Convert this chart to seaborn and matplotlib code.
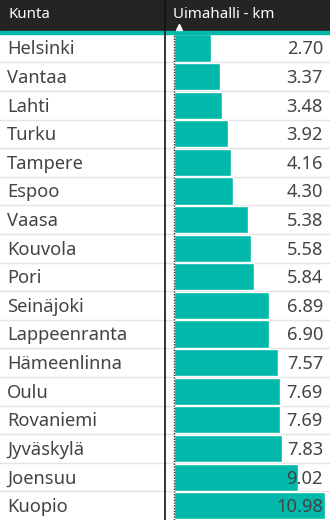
import matplotlib
matplotlib.use("Agg")
import matplotlib.pyplot as plt
from matplotlib.lines import Line2D
from matplotlib.patches import Rectangle
import seaborn as sns
import pandas as pd

kunta = ["Helsinki", "Vantaa", "Lahti", "Turku", "Tampere", "Espoo", "Vaasa",
         "Kouvola", "Pori", "Seinäjoki", "Lappeenranta", "Hämeenlinna", "Oulu",
         "Rovaniemi", "Jyväskylä", "Joensuu", "Kuopio"]
uimahalli_km = [2.70, 3.37, 3.48, 3.92, 4.16, 4.30, 5.38, 5.58, 5.84, 6.89,
                6.90, 7.57, 7.69, 7.69, 7.83, 9.02, 10.98]

header_cols = ["Kunta", "Uimahalli - km"]

df = pd.DataFrame({"Kunta": kunta, "km": uimahalli_km})

sns.set_style("white")
plt.rcParams["font.family"] = ["Noto Sans", "DejaVu Sans"]

W, H = 330, 520
HEADER = 31
TOP = 33.7
X0 = 174          # pixel where the bar axis starts
PX = 13.75        # pixels per km
TEAL = "#01B8AA"

fig = plt.figure(figsize=(W / 100, H / 100), dpi=100)
ax = fig.add_axes([0, 0, 1, (H - TOP) / H])

# table grid lines between rows
for i in range(len(kunta) - 1):
    ax.axhline(i + 0.5, color="#e3e3e3", lw=1, zorder=0)

sns.barplot(data=df, x="km", y="Kunta", orient="h", color=TEAL,
            saturation=1, width=0.95, ax=ax, zorder=2)

ax.set_xlim(-X0 / PX, (W - X0) / PX)
ax.set_ylim(len(kunta) - 0.5, -0.5)
ax.set_axis_off()

# bar axis baseline
ax.axvline(0, color="#333333", lw=1, ls=(0, (1, 1)), zorder=3)

trans = ax.get_yaxis_transform()
for i, (name, v) in enumerate(zip(kunta, uimahalli_km)):
    ax.text(7 / W, i + 0.05, name, transform=trans, ha="left", va="center",
            fontsize=13.2, color="#444444", zorder=4)
    ax.text((W - 7) / W, i + 0.05, f"{v:.2f}", transform=trans, ha="right",
            va="center", fontsize=13.2, color="#444444", zorder=4)

# header band
fig.add_artist(Rectangle((0, 1 - HEADER / H), 1, HEADER / H,
                         transform=fig.transFigure, color="#252423", zorder=1))
fig.add_artist(Rectangle((0, 1 - TOP / H), 1, (TOP - HEADER) / H,
                         transform=fig.transFigure, color=TEAL, zorder=1))
fig.text(8 / W, 1 - 14 / H, header_cols[0], color="white", fontsize=10.8,
         ha="left", va="center", zorder=5)
fig.text(173 / W, 1 - 14 / H, header_cols[1], color="white", fontsize=10.8,
         ha="left", va="center", zorder=5)
fig.add_artist(Line2D([179 / W], [1 - 27 / H], marker="^", color="white",
                      markersize=5, transform=fig.transFigure, zorder=5))

# column divider
fig.add_artist(Line2D([165 / W, 165 / W], [0, 1], color="#111111", lw=1.2,
                      transform=fig.transFigure, zorder=6))

fig.savefig("out.png", dpi=100, facecolor="white")
